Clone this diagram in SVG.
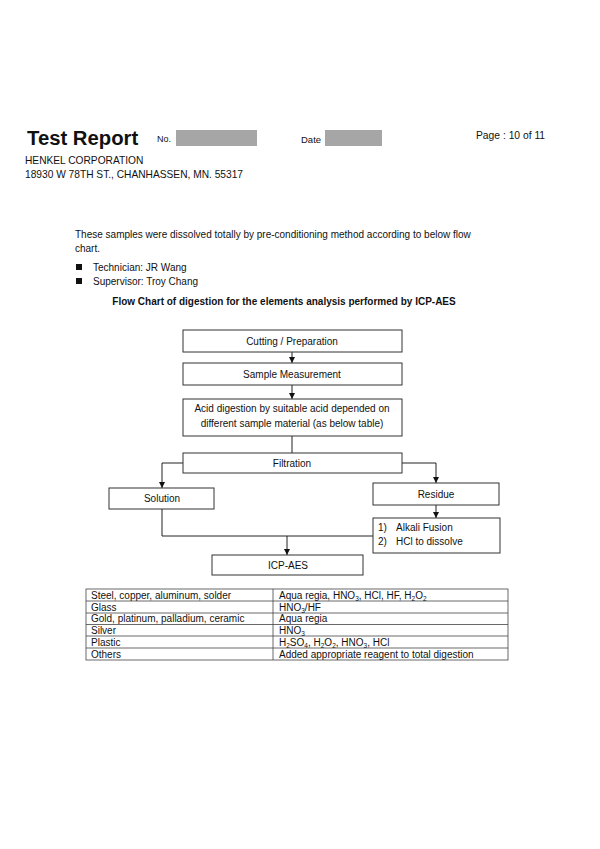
<svg xmlns="http://www.w3.org/2000/svg" width="600" height="849" viewBox="0 0 600 849">
<style>
text{font-family:"Liberation Sans",Arial,sans-serif;fill:#111;}
.t9{font-size:10px;}
.c{text-anchor:middle;}
.box{fill:#fff;stroke:#333;stroke-width:1;}
.ln{fill:none;stroke:#222;stroke-width:1;}
.grid{stroke:#444;stroke-width:0.8;fill:none;}
.sub{font-size:6.5px;}
</style>
<defs>
<marker id="ah" viewBox="0 0 6 6" refX="6" refY="3" markerWidth="6" markerHeight="6" orient="auto" markerUnits="userSpaceOnUse">
<path d="M0,0 L6,3 L0,6 Z" fill="#111"/>
</marker>
</defs>
<rect width="600" height="849" fill="#fff"/>
<g id="header">
<text x="27" y="145" style="font-size:20.3px;font-weight:bold">Test Report</text>
<text x="157" y="142" style="font-size:9px">No.</text>
<rect x="176" y="130" width="81" height="16" fill="#a6a6a6"/>
<text x="301" y="143" style="font-size:9.5px">Date</text>
<rect x="325" y="130" width="57" height="16" fill="#a6a6a6"/>
<text x="476" y="139" style="font-size:10.3px">Page : 10 of 11</text>
<text x="25" y="164" style="font-size:10.2px">HENKEL CORPORATION</text>
<text x="25" y="178" style="font-size:10.2px">18930 W 78TH ST., CHANHASSEN, MN. 55317</text>
</g>
<g id="intro">
<text x="75" y="238" class="t9">These samples were dissolved totally by pre-conditioning method according to below flow</text>
<text x="75" y="252" class="t9">chart.</text>
<rect x="76" y="264" width="6" height="6" fill="#111"/>
<text x="93" y="271" class="t9">Technician: JR Wang</text>
<rect x="76" y="278" width="6" height="6" fill="#111"/>
<text x="93" y="285" class="t9">Supervisor: Troy Chang</text>
<text x="284" y="305" class="c" style="font-size:10px;font-weight:bold">Flow Chart of digestion for the elements analysis performed by ICP-AES</text>
</g>
<g id="connectors">
<line class="ln" x1="292" y1="352" x2="292" y2="363" marker-end="url(#ah)"/>
<line class="ln" x1="292" y1="385" x2="292" y2="399" marker-end="url(#ah)"/>
<line class="ln" x1="292" y1="436" x2="292" y2="453"/>
<polyline class="ln" points="183,463 162,463 162,488" marker-end="url(#ah)"/>
<polyline class="ln" points="402,463 436,463 436,483" marker-end="url(#ah)"/>
<line class="ln" x1="436" y1="505" x2="436" y2="518" marker-end="url(#ah)"/>
<polyline class="ln" points="162,509 162,536 373,536"/>
<line class="ln" x1="287" y1="536" x2="287" y2="555" marker-end="url(#ah)"/>
</g>
<g id="n-cutting">
<rect class="box" x="183" y="330" width="219" height="22"/>
<text x="292" y="344.5" class="t9 c">Cutting / Preparation</text>
</g>
<g id="n-sample">
<rect class="box" x="183" y="363" width="219" height="22"/>
<text x="292" y="377.5" class="t9 c">Sample Measurement</text>
</g>
<g id="n-acid">
<rect class="box" x="183" y="399" width="219" height="37"/>
<text x="292" y="412" class="t9 c">Acid digestion by suitable acid depended on</text>
<text x="292" y="426.5" class="t9 c">different sample material (as below table)</text>
</g>
<g id="n-filtration">
<rect class="box" x="183" y="453" width="219" height="20"/>
<text x="292" y="466.5" class="t9 c">Filtration</text>
</g>
<g id="n-solution">
<rect class="box" x="109" y="488" width="105" height="21"/>
<text x="162" y="502" class="t9 c">Solution</text>
</g>
<g id="n-residue">
<rect class="box" x="373" y="483" width="126" height="22"/>
<text x="436" y="497.5" class="t9 c">Residue</text>
</g>
<g id="n-alkali">
<rect class="box" x="373" y="518" width="127" height="35"/>
<text x="378" y="531" class="t9">1)</text>
<text x="396" y="531" class="t9">Alkali Fusion</text>
<text x="378" y="545" class="t9">2)</text>
<text x="396" y="545" class="t9">HCl to dissolve</text>
</g>
<g id="n-icp">
<rect class="box" x="212" y="555" width="151" height="20"/>
<text x="288" y="569" class="t9 c">ICP-AES</text>
</g>
<g id="table">
<rect class="grid" x="86" y="589" width="422" height="71"/>
<line class="grid" x1="273" y1="589" x2="273" y2="660"/>
<line class="grid" x1="86" y1="601" x2="508" y2="601"/>
<line class="grid" x1="86" y1="613" x2="508" y2="613"/>
<line class="grid" x1="86" y1="624.5" x2="508" y2="624.5"/>
<line class="grid" x1="86" y1="636" x2="508" y2="636"/>
<line class="grid" x1="86" y1="648" x2="508" y2="648"/>
<text x="91" y="598.5" class="t9">Steel, copper, aluminum, solder</text>
<text x="91" y="610.5" class="t9">Glass</text>
<text x="91" y="622" class="t9">Gold, platinum, palladium, ceramic</text>
<text x="91" y="633.5" class="t9">Silver</text>
<text x="91" y="645.5" class="t9">Plastic</text>
<text x="91" y="657.5" class="t9">Others</text>
<text x="279" y="598.5" class="t9">Aqua regia, HNO<tspan dy="2" class="sub">3</tspan><tspan dy="-2">, HCl, HF, H</tspan><tspan dy="2" class="sub">2</tspan><tspan dy="-2">O</tspan><tspan dy="2" class="sub">2</tspan></text>
<text x="279" y="610.5" class="t9">HNO<tspan dy="2" class="sub">3</tspan><tspan dy="-2">/HF</tspan></text>
<text x="279" y="622" class="t9">Aqua regia</text>
<text x="279" y="633.5" class="t9">HNO<tspan dy="2" class="sub">3</tspan></text>
<text x="279" y="645.5" class="t9">H<tspan dy="2" class="sub">2</tspan><tspan dy="-2">SO</tspan><tspan dy="2" class="sub">4</tspan><tspan dy="-2">, H</tspan><tspan dy="2" class="sub">2</tspan><tspan dy="-2">O</tspan><tspan dy="2" class="sub">2</tspan><tspan dy="-2">, HNO</tspan><tspan dy="2" class="sub">3</tspan><tspan dy="-2">, HCl</tspan></text>
<text x="279" y="657.5" class="t9">Added appropriate reagent to total digestion</text>
</g>
</svg>
